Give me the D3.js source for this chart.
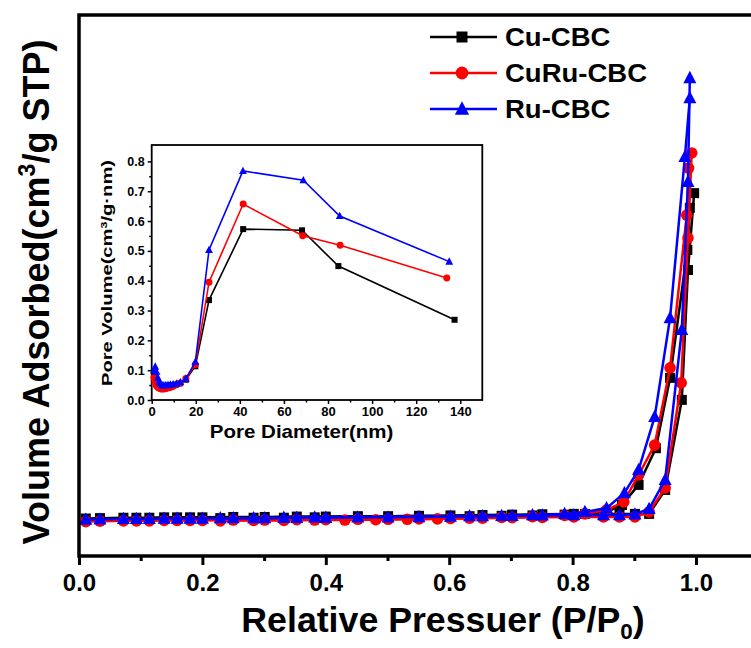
<!DOCTYPE html>
<html><head><meta charset="utf-8">
<script src="https://cdn.jsdelivr.net/npm/d3@7"></script>
<style>body{margin:0;background:#fff}svg{display:block;font-family:Arial,"Liberation Sans",sans-serif;font-weight:bold}</style>
</head><body><svg id="c" width="751" height="648"></svg>
<script>
// ---------- data ----------
const seriesNames = ["Cu-CBC", "CuRu-CBC", "Ru-CBC"];
const seriesColors = ["#000000", "#ff0000", "#0000ff"];
const seriesShapes = ["square", "circle", "triangle"];

// N2 isotherm: adsorption / desorption branches (P/P0, volume cm3/g)
const cuAdsP = [0.011,0.034,0.072,0.093,0.114,0.138,0.159,0.180,0.200,0.250,0.301,0.353,0.400,0.452,0.501,0.551,0.602,0.654,0.702,0.751,0.802,0.850,0.876,0.901,0.924,0.950,0.977,0.987,0.997];
const cuAdsV = [9.7,9.8,9.9,9.9,9.9,10.0,10.0,10.0,10.0,10.1,10.1,10.2,10.2,10.3,10.3,10.4,10.5,10.6,10.7,10.8,10.9,10.9,10.9,10.9,10.9,17.1,40.4,74.0,93.9];
const cuDesP = [0.990,0.986,0.958,0.935,0.907,0.880,0.855,0.820,0.787,0.735,0.685,0.633,0.382,0.332,0.283,0.229];
const cuDesV = [90.1,79.2,46.1,27.9,18.4,13.2,11.4,10.9,10.7,10.5,10.4,10.3,10.0,9.9,9.9,9.8];

const curuAdsP = [0.011,0.034,0.072,0.093,0.114,0.138,0.159,0.180,0.200,0.250,0.301,0.353,0.400,0.452,0.501,0.551,0.602,0.654,0.702,0.751,0.802,0.850,0.876,0.901,0.924,0.950,0.976,0.987,0.993];
const curuAdsV = [8.9,9.0,9.1,9.1,9.1,9.2,9.2,9.2,9.2,9.3,9.3,9.4,9.4,9.5,9.5,9.6,9.7,9.8,9.9,10.0,10.1,10.1,10.1,10.1,11.4,17.6,44.8,82.3,104.3];
const curuDesP = [0.988,0.985,0.958,0.933,0.907,0.883,0.855,0.820,0.787,0.735,0.685,0.633,0.581,0.532,0.481,0.431,0.382,0.332,0.283,0.229];
const curuDesV = [100.4,88.2,48.7,28.7,21.0,14.0,11.9,10.9,10.5,10.2,10.0,9.8,9.6,9.5,9.4,9.3,9.3,9.2,9.2,9.1];

const ruAdsP = [0.011,0.034,0.072,0.093,0.114,0.138,0.159,0.180,0.200,0.250,0.301,0.353,0.400,0.452,0.501,0.551,0.602,0.654,0.702,0.751,0.802,0.850,0.876,0.901,0.924,0.950,0.977,0.987,0.990];
const ruAdsV = [9.4,9.5,9.6,9.6,9.6,9.7,9.7,9.7,9.7,9.8,9.8,9.9,9.9,10.0,10.0,10.1,10.2,10.3,10.4,10.5,10.6,10.6,10.6,10.8,12.2,19.7,58.5,96.8,123.7];
const ruDesP = [0.990,0.982,0.958,0.933,0.907,0.884,0.855,0.820,0.787,0.735,0.685,0.633,0.382,0.332,0.283,0.229];
const ruDesV = [118.5,103.3,61.6,36.0,22.3,16.3,12.4,11.4,10.9,10.6,10.4,10.3,10.0,9.9,9.8,9.8];

// Inset: pore size distribution (nm, cm3/g·nm)
const cuDiam = [1.2,1.7,2.2,2.7,3.2,3.8,4.4,5.1,5.9,6.9,8.0,9.4,11.0,12.9,15.5,19.8,26.0,41.5,68.2,84.7,137.4];
const cuPV   = [0.082,0.070,0.058,0.050,0.045,0.043,0.042,0.043,0.044,0.046,0.048,0.050,0.052,0.056,0.068,0.113,0.335,0.573,0.569,0.449,0.269];
const curuDiam = [1.0,1.5,2.1,2.7,3.3,3.9,4.6,5.4,6.3,7.3,8.4,9.6,11.0,12.9,15.5,19.8,26.0,41.5,68.5,85.5,133.9];
const curuPV   = [0.075,0.060,0.049,0.043,0.040,0.038,0.037,0.037,0.038,0.040,0.042,0.045,0.050,0.056,0.072,0.118,0.395,0.657,0.551,0.519,0.409];
const ruDiam = [1.0,1.6,2.2,2.8,3.4,4.0,4.7,5.5,6.4,7.4,8.5,9.7,11.2,13.0,15.5,19.8,26.0,41.4,68.8,85.3,135.0];
const ruPV   = [0.100,0.112,0.095,0.075,0.062,0.055,0.050,0.049,0.050,0.051,0.052,0.053,0.055,0.060,0.072,0.128,0.503,0.768,0.737,0.617,0.464];

const mainXTicks = [0, 0.2, 0.4, 0.6, 0.8, 1.0];
const mainXMinor = [0.1, 0.3, 0.5, 0.7, 0.9, 1.1];
const insetXTicks = [0, 20, 40, 60, 80, 100, 120, 140];
const insetYTicks = [0, 0.1, 0.2, 0.3, 0.4, 0.5, 0.6, 0.7, 0.8];

// ---------- drawing ----------
const svg = d3.select("#c");
const zip = (a, b) => a.map((v, i) => [v, b[i]]);

const isotherm = [
  {ads: zip(cuAdsP, cuAdsV), des: zip(cuDesP, cuDesV)},
  {ads: zip(curuAdsP, curuAdsV), des: zip(curuDesP, curuDesV)},
  {ads: zip(ruAdsP, ruAdsV), des: zip(ruDesP, ruDesV)}
];
const psd = [zip(cuDiam, cuPV), zip(curuDiam, curuPV), zip(ruDiam, ruPV)];

function marker(g, shape, x, y, s, color) {
  if (shape === "square") {
    g.append("rect").attr("x", x - s / 2).attr("y", y - s / 2).attr("width", s).attr("height", s).attr("fill", color);
  } else if (shape === "circle") {
    g.append("circle").attr("cx", x).attr("cy", y).attr("r", s * 0.58).attr("fill", color);
  } else {
    const h = s * 1.15, w = s * 1.3;
    g.append("path").attr("d", `M${x},${y - h * 0.62}L${x + w / 2},${y + h * 0.45}L${x - w / 2},${y + h * 0.45}Z`).attr("fill", color);
  }
}

// main plot
const M = {left: 79, right: 757.7, top: 15, bottom: 556};
const x = d3.scaleLinear().domain([0, 1.1]).range([M.left, M.right]);
const y = d3.scaleLinear().domain([0, 140]).range([M.bottom, M.top]);

const main = svg.append("g");
const line = d3.line().x(d => x(d[0])).y(d => y(d[1]));
isotherm.forEach((s, i) => {
  const g = main.append("g");
  [s.ads, s.des].forEach(br => {
    g.append("path").attr("d", line(br)).attr("fill", "none").attr("stroke", seriesColors[i]).attr("stroke-width", 2.5);
    br.forEach(d => marker(g, seriesShapes[i], x(d[0]), y(d[1]), 10, seriesColors[i]));
  });
});

// frame
svg.append("rect").attr("x", M.left).attr("y", M.top).attr("width", M.right - M.left).attr("height", M.bottom - M.top)
  .attr("fill", "none").attr("stroke", "#000").attr("stroke-width", 3.5);

const xAxis = svg.append("g").attr("transform", `translate(0,${M.bottom})`)
  .call(d3.axisBottom(x).tickValues(mainXTicks).tickFormat(d3.format(".1f")).tickSize(9).tickPadding(9));
xAxis.select(".domain").remove();
xAxis.selectAll(".tick line").attr("stroke-width", 3);
xAxis.selectAll(".tick text").attr("font-size", 24).attr("font-weight", "bold").attr("font-family", "Arial, 'Liberation Sans', sans-serif").attr("fill", "#000");
const xMinor = svg.append("g").attr("transform", `translate(0,${M.bottom})`)
  .call(d3.axisBottom(x).tickValues(mainXMinor).tickFormat("").tickSize(5));
xMinor.select(".domain").remove();
xMinor.selectAll(".tick line").attr("stroke-width", 3);

// axis titles
const xt = svg.append("text").attr("transform", "translate(443,632) scale(1.02,1)").attr("text-anchor", "middle").attr("font-size", 35).attr("fill", "#000");
xt.append("tspan").text("Relative Pressuer (P/P");
xt.append("tspan").attr("font-size", 22).attr("dy", 7).text("0");
xt.append("tspan").attr("dy", -7).text(")");

const yt = svg.append("text").attr("transform", "translate(49,292) rotate(-90)").attr("text-anchor", "middle").attr("font-size", 36).attr("fill", "#000");
yt.append("tspan").text("Volume Adsorbed(cm");
yt.append("tspan").attr("font-size", 23).attr("dy", -14).text("3");
yt.append("tspan").attr("dy", 14).text("/g STP)");

// legend
const lg = svg.append("g");
const legY = [37, 73, 109];
seriesNames.forEach((n, i) => {
  lg.append("line").attr("x1", 430).attr("x2", 497).attr("y1", legY[i]).attr("y2", legY[i]).attr("stroke", seriesColors[i]).attr("stroke-width", 2.5);
  marker(lg, seriesShapes[i], 462, legY[i], 11, seriesColors[i]);
  lg.append("text").attr("transform", `translate(505,${legY[i]}) scale(1.1,1)`).attr("dy", "0.36em").attr("font-size", 25).attr("fill", "#000").text(n);
});

// ---------- inset ----------
const I = {left: 151.7, right: 482.3, top: 145, bottom: 400};
const ix = d3.scaleLinear().domain([0, 150]).range([I.left, I.right]);
const iy = d3.scaleLinear().domain([0, 0.855]).range([I.bottom, I.top]);
const inset = svg.append("g");
inset.append("rect").attr("x", I.left).attr("y", I.top).attr("width", I.right - I.left).attr("height", I.bottom - I.top)
  .attr("fill", "#fff").attr("stroke", "#000").attr("stroke-width", 1.8);
const iline = d3.line().x(d => ix(d[0])).y(d => iy(d[1]));
psd.forEach((s, i) => {
  const g = inset.append("g");
  g.append("path").attr("d", iline(s)).attr("fill", "none").attr("stroke", seriesColors[i]).attr("stroke-width", 1.6);
  s.forEach(d => marker(g, seriesShapes[i], ix(d[0]), iy(d[1]), 6, seriesColors[i]));
});
function styleAxis(a, fs) {
  a.select(".domain").remove();
  a.selectAll(".tick line").attr("stroke-width", 1.5);
  a.selectAll(".tick text").attr("font-size", fs).attr("font-weight", "bold").attr("font-family", "Arial, 'Liberation Sans', sans-serif").attr("fill", "#000");
}
const ixa = inset.append("g").attr("transform", `translate(0,${I.bottom})`)
  .call(d3.axisBottom(ix).tickValues(insetXTicks).tickFormat(d3.format("d")).tickSize(4).tickPadding(3));
styleAxis(ixa, 13);
const ixm = inset.append("g").attr("transform", `translate(0,${I.bottom})`)
  .call(d3.axisBottom(ix).tickValues(d3.range(10, 150, 20)).tickFormat("").tickSize(2.5));
styleAxis(ixm, 13);
const iya = inset.append("g").attr("transform", `translate(${I.left},0)`)
  .call(d3.axisLeft(iy).tickValues(insetYTicks).tickFormat(d3.format(".1f")).tickSize(4).tickPadding(3));
styleAxis(iya, 12.5);
const iym = inset.append("g").attr("transform", `translate(${I.left},0)`)
  .call(d3.axisLeft(iy).tickValues(d3.range(0.05, 0.85, 0.1)).tickFormat("").tickSize(2.5));
styleAxis(iym, 12);

inset.append("text").attr("transform", `translate(${ix(68)},438) scale(1.14,1)`).attr("text-anchor", "middle").attr("font-size", 18).attr("fill", "#000").text("Pore Diameter(nm)");
const iyt = inset.append("text").attr("transform", "translate(112,273) rotate(-90) scale(1.26,0.88)").attr("text-anchor", "middle").attr("font-size", 16).attr("fill", "#000");
iyt.append("tspan").text("Pore Volume(cm");
iyt.append("tspan").attr("font-size", 10).attr("dy", -6).text("3");
iyt.append("tspan").attr("dy", 6).text("/g·nm)");
</script></body></html>
